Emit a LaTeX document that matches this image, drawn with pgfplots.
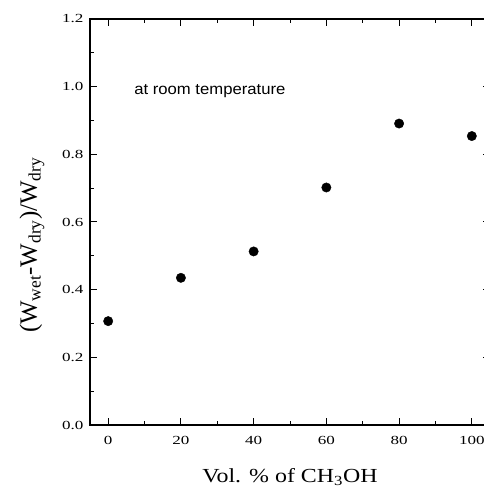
\documentclass[border=0pt]{standalone}
\usepackage{fontspec}
\setmainfont{Liberation Serif}
\newfontfamily\tickfont[FakeStretch=1.38]{Liberation Serif}
\newfontfamily\xlabfont[FakeStretch=1.2]{Liberation Serif}
\newfontfamily\arial[FakeStretch=1.08]{Liberation Sans}
\usepackage{pgfplots}
\pgfplotsset{compat=1.18}
\begin{document}
\begin{tikzpicture}
\begin{axis}[
  name=ax, at={(0,0)}, anchor=south west,
  scale only axis, width=400bp, height=406bp,
  xmin=-5, xmax=105, ymin=0, ymax=1.2,
  xtick={0,20,40,60,80,100},
  ytick={0,0.2,0.4,0.6,0.8,1.0,1.2},
  minor x tick num=1, minor y tick num=1,
  tick align=inside,
  major tick length=7bp, minor tick length=4bp,
  axis line style={line width=1.2bp},
  every tick/.style={line width=1bp, black},
  tick label style={font=\tickfont\fontsize{12.4}{15}\selectfont},
  /pgf/number format/assume math mode=true,
  y tick label style={xshift=-3bp, /pgf/number format/.cd, fixed, fixed zerofill, precision=1},
  x tick label style={yshift=-8bp},
  xlabel={Vol. \% of CH\textsubscript{3}OH},
  ylabel={(W\textsubscript{wet}-W\textsubscript{dry})/W\textsubscript{dry}},
  xlabel style={font=\xlabfont\fontsize{20}{24}\selectfont,
    at={(axis description cs:0.5,0)}, anchor=base, yshift=-57bp},
  ylabel style={font=\fontsize{25}{29}\selectfont,
    at={(axis description cs:-0.1325,0.443)}, anchor=base},
]
% measured points
\addplot[only marks, mark=*, mark size=4.7bp, black] coordinates {
  (0,0.307) (20,0.435) (40,0.513) (60,0.702) (80,0.891) (100,0.854)
};
\node[anchor=base west, font=\arial\fontsize{15.5}{19}\selectfont]
  at (axis description cs:0.102,0.815) {at room temperature};
\end{axis}
\pgfresetboundingbox
\useasboundingbox ([xshift=-90bp,yshift=-64bp]ax.south west) rectangle ([xshift=394bp,yshift=19bp]ax.north west);
\end{tikzpicture}
\end{document}
